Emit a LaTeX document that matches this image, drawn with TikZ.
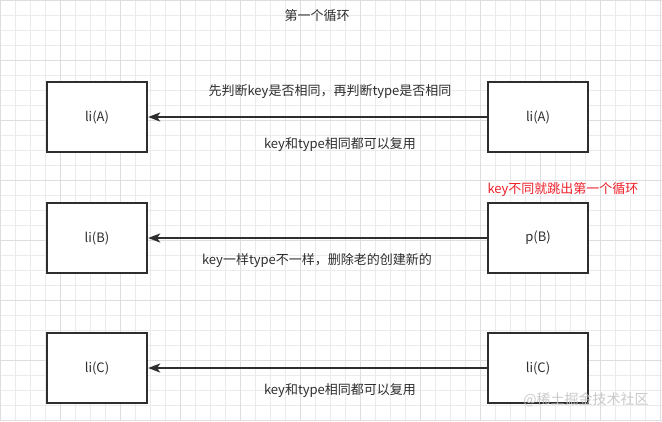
\documentclass[tikz,border=0pt]{standalone}
\usepackage{fontspec}
\setmainfont{Noto Sans CJK SC}
\usetikzlibrary{arrows.meta}
\definecolor{ink}{HTML}{2E2E2E}
\definecolor{gridminor}{HTML}{EBEBEB}
\definecolor{gridmajor}{HTML}{DEDEDE}
\definecolor{redtxt}{HTML}{F0202A}
\definecolor{wm}{HTML}{C4C4C4}
\begin{document}
\begin{tikzpicture}[x=1pt,y=-1pt,
  box/.style={draw=ink,line width=2.3pt,fill=white,minimum width=100pt,minimum height=70pt,inner sep=0pt,text=ink,font=\fontsize{13pt}{15pt}\selectfont},
  lbl/.style={text=ink,inner sep=0pt,font=\fontsize{13pt}{15pt}\selectfont},
  conn/.style={draw=ink,line width=2pt,-{Stealth[length=12pt,width=9pt,inset=3pt]}}]
\useasboundingbox (0,0) rectangle (662,421);
\fill[white] (0,0) rectangle (662,421);
% grid
\foreach \i in {0,15,...,660} \draw[gridminor,line width=0.8pt] (\i,0) -- (\i,421);
\foreach \j in {0,15,...,420} \draw[gridminor,line width=0.8pt] (0,\j) -- (662,\j);
\foreach \i in {0,60,...,660} \draw[gridmajor,line width=0.8pt] (\i,0) -- (\i,421);
\foreach \j in {0,60,...,420} \draw[gridmajor,line width=0.8pt] (0,\j) -- (662,\j);
% title
\node[lbl] (title) at (317,16) {第一个循环};
% boxes
\node[box] (la) at (97,117) {li(A)};
\node[box] (ra) at (538,117) {li(A)};
\node[box] (lb) at (97,238) {li(B)};
\node[box] (rb) at (538,238) {p(B)};
\node[box] (lc) at (97,368) {li(C)};
\node[box] (rc) at (538,368) {li(C)};
% connectors
\draw[conn] (ra.west) -- (la.east);
\draw[conn] (rb.west) -- (lb.east);
\draw[conn] (rc.west) -- (lc.east);
% labels
\node[lbl] (t1) at (330,92) {先判断key是否相同，再判断type是否相同};
\node[lbl] (t2) at (340,145) {key和type相同都可以复用};
\node[lbl,text=redtxt] (t3) at (563,190) {key不同就跳出第一个循环};
\node[lbl] (t4) at (317,261) {key一样type不一样，删除老的创建新的};
\node[lbl] (t5) at (340,391) {key和type相同都可以复用};
\node[lbl,text=wm,font=\fontsize{14pt}{16pt}\selectfont,opacity=0.9] (wm) at (586,400) {@稀土掘金技术社区};
\end{tikzpicture}
\end{document}
